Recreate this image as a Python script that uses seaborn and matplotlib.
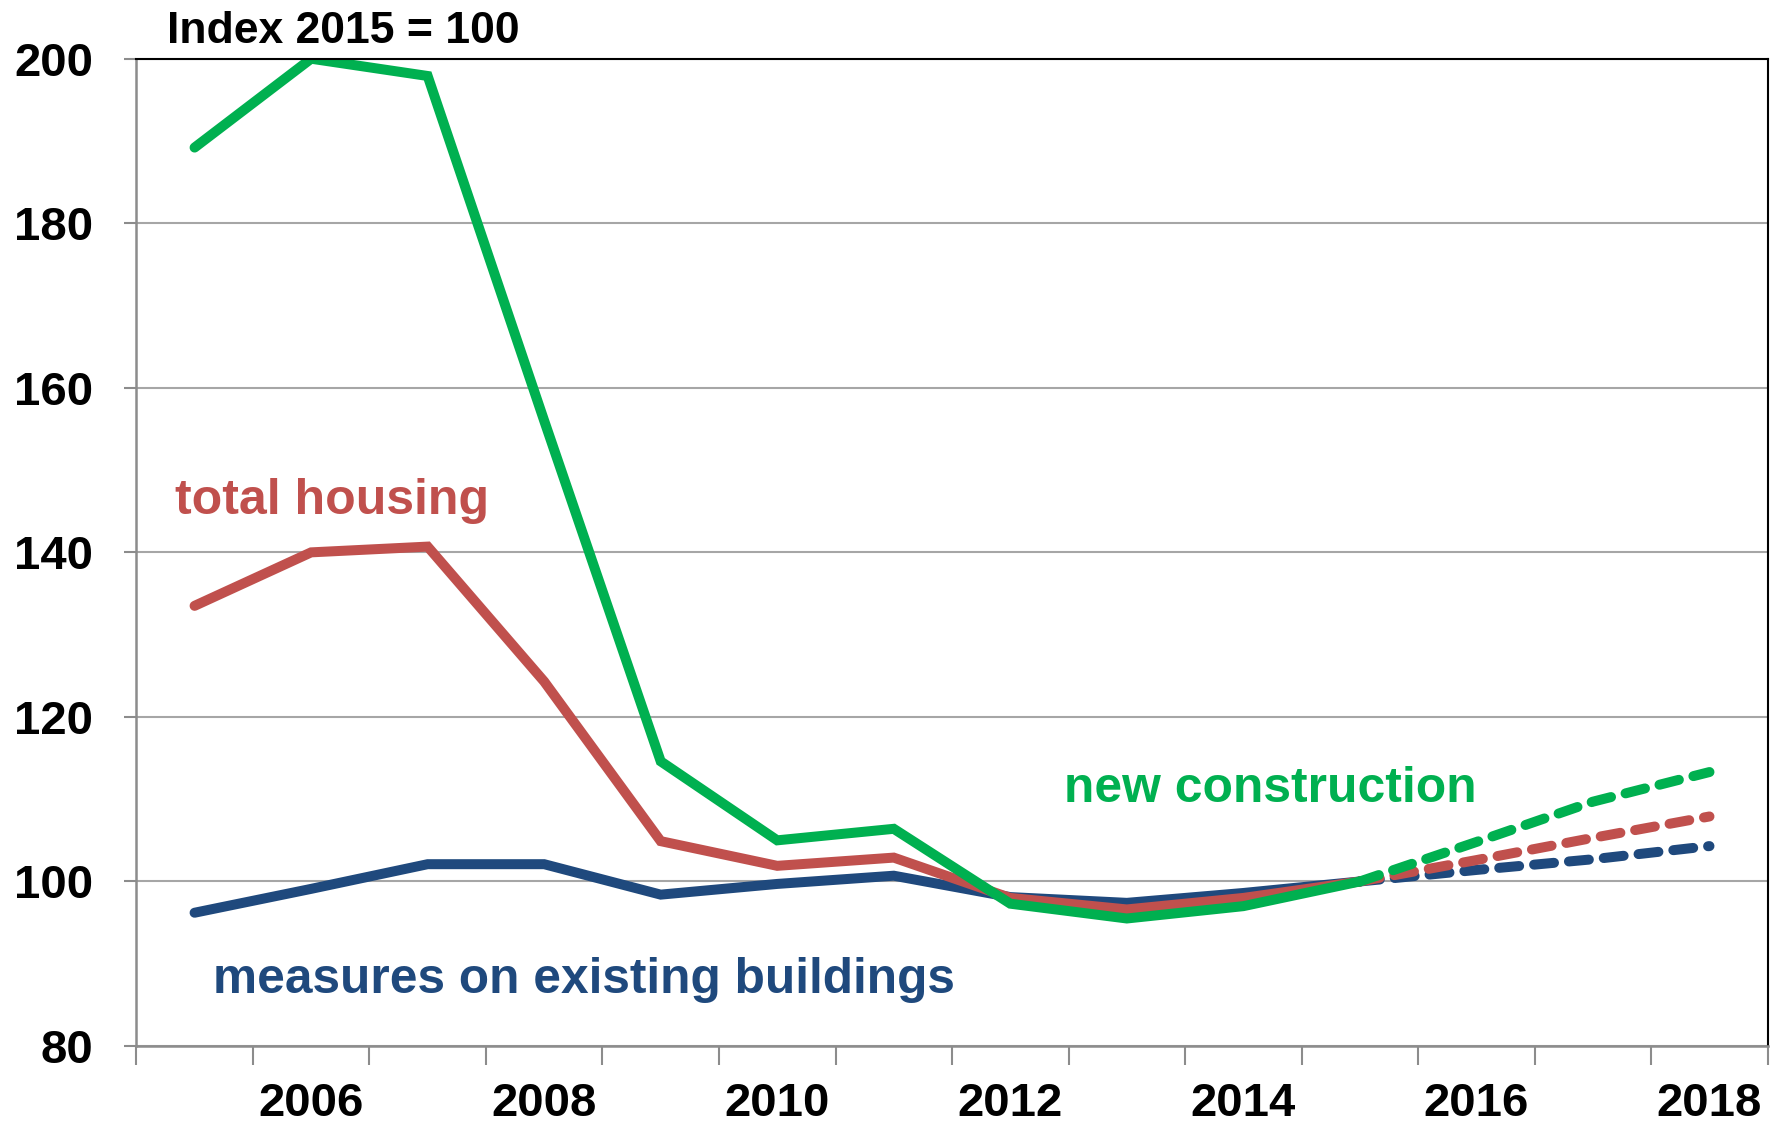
import numpy as np
import pandas as pd
import matplotlib
matplotlib.use("Agg")
import matplotlib.pyplot as plt
import seaborn as sns

sns.set_theme(style="white")
plt.rcParams['font.family'] = ['Liberation Sans', 'DejaVu Sans']

years = list(range(2005, 2019))
actual_years = list(range(2005, 2016))
forecast_years = [2015, 2016, 2017, 2018]

new_construction = [189.2, 200.0, 197.9, 156.0, 114.6, 105.0, 106.4, 97.3, 95.5, 97.0, 100.0]
new_construction_fc = [100.0, 104.8, 109.7, 113.3]
total_housing = [133.5, 140.0, 140.7, 124.3, 104.9, 101.9, 102.9, 98.0, 96.6, 98.0, 100.0]
total_housing_fc = [100.0, 102.6, 105.3, 107.9]
existing_buildings = [96.2, 99.1, 102.1, 102.1, 98.4, 99.7, 100.7, 98.1, 97.4, 98.6, 100.0]
existing_buildings_fc = [100.0, 101.4, 102.7, 104.3]

x_labels = ["2006", "2008", "2010", "2012", "2014", "2016", "2018"]
y_ticks = [80, 100, 120, 140, 160, 180, 200]

colors = {"new construction": "#00B050",
          "total housing": "#C0504D",
          "measures on existing buildings": "#1F497D"}

rows = []
for name, act, fc in [("new construction", new_construction, new_construction_fc),
                      ("total housing", total_housing, total_housing_fc),
                      ("measures on existing buildings", existing_buildings, existing_buildings_fc)]:
    for y, v in zip(actual_years, act):
        rows.append((name, "actual", y, v))
    for y, v in zip(forecast_years, fc):
        rows.append((name, "forecast", y, v))
df = pd.DataFrame(rows, columns=["series", "phase", "year", "value"])

fig = plt.figure(figsize=(17.82, 11.29), dpi=100)
ax = fig.add_axes([0.0765, 0.0735, 0.9155, 0.8745])

ax.set_axisbelow(True)
ax.yaxis.grid(True, color="#A6A6A6", linewidth=1.5)

for name in ["measures on existing buildings", "total housing", "new construction"]:
    sub = df[(df.series == name) & (df.phase == "actual")]
    sns.lineplot(data=sub, x="year", y="value", color=colors[name], linewidth=7.2,
                 ax=ax, solid_capstyle="round", solid_joinstyle="miter")
    sub = df[(df.series == name) & (df.phase == "forecast")]
    sns.lineplot(data=sub, x="year", y="value", color=colors[name], linewidth=7.2,
                 ax=ax, linestyle=(0, (2.0, 1.5)), dash_capstyle="round")

ax.set_xlim(2004.5, 2018.5)
ax.set_ylim(80, 200)
ax.set_yticks(y_ticks)
ax.set_yticklabels([str(v) for v in y_ticks], fontsize=34, fontweight="bold", color="black")

ax.set_xticks(np.arange(2004.5, 2018.6, 1.0))
ax.set_xticklabels([])
ax.set_xticks([int(s) for s in x_labels], minor=True)
ax.set_xticklabels(x_labels, minor=True, fontsize=34, fontweight="bold", color="black")
ax.tick_params(axis="x", which="major", direction="out", length=14, width=1.5,
               color="#8C8C8C", bottom=True)
ax.tick_params(axis="x", which="minor", length=0, pad=26)
ax.tick_params(axis="y", direction="out", length=9, width=1.5, color="#8C8C8C",
               left=True, pad=22)

for side in ["left", "bottom"]:
    ax.spines[side].set_color("#8C8C8C")
    ax.spines[side].set_linewidth(1.8)
for side in ["top", "right"]:
    ax.spines[side].set_color("black")
    ax.spines[side].set_linewidth(1.5)

ax.set_xlabel("")
ax.set_ylabel("")

ax.text(2004.76, 201.9, "Index 2015 = 100", fontsize=32, fontweight="bold",
        color="black", va="baseline", clip_on=False)
ax.text(2004.83, 144.7, "total housing", fontsize=36, fontweight="bold",
        color=colors["total housing"], va="baseline")
ax.text(2012.46, 109.7, "new construction", fontsize=35.8, fontweight="bold",
        color=colors["new construction"], va="baseline")
ax.text(2005.16, 86.5, "measures on existing buildings", fontsize=35.7, fontweight="bold",
        color=colors["measures on existing buildings"], va="baseline")

fig.savefig("out.png", dpi=100)
